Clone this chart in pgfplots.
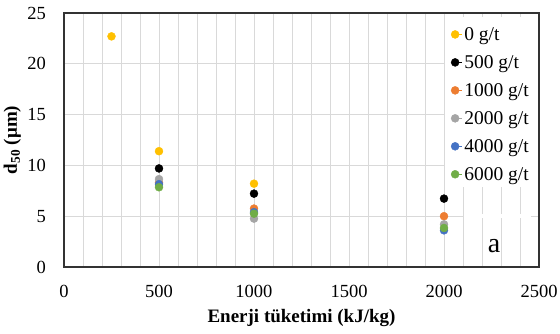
\documentclass[border=0pt]{standalone}
\usepackage{pgfplots}
\pgfplotsset{compat=1.18}
\usepackage{fontspec}
\setmainfont{Liberation Serif}
\definecolor{cy}{HTML}{FFC000}
\definecolor{co}{HTML}{ED7D31}
\definecolor{cg}{HTML}{A5A5A5}
\definecolor{cb}{HTML}{4472C4}
\definecolor{cgr}{HTML}{70AD47}
\definecolor{gridc}{HTML}{D9D9D9}
\begin{document}
\begin{tikzpicture}
\begin{axis}[
  scale only axis,
  width=475pt, height=254pt,
  xmin=0, xmax=2500, ymin=0, ymax=25,
  xtick={0,500,...,2500}, ytick={0,5,...,25},
  minor x tick num=4,
  grid=both,
  major grid style={gridc, line width=0.8pt},
  minor grid style={gridc, line width=0.8pt},
  major tick length=0pt, minor tick length=0pt,
  axis line style={black!80, line width=1.1pt},
  /pgf/number format/assume math mode=true,
  /pgf/number format/1000 sep={},
  tick label style={font=\fontsize{18.5}{21}\selectfont},
  yticklabel style={inner sep=0pt, xshift=-18pt},
  xticklabel style={inner sep=0pt, yshift=-18pt},
  xlabel={\textbf{Enerji tüketimi (kJ/kg)}},
  xlabel style={font=\fontsize{19}{21}\selectfont, at={(axis description cs:0.5,0)}, anchor=base, yshift=-56pt},
  ylabel={\textbf{d\textsubscript{50} (μm)}},
  ylabel style={font=\fontsize{19}{21}\selectfont, at={(axis description cs:0,0.5)}, anchor=base, yshift=47pt},
  legend style={draw=none, fill=none, at={(rel axis cs:1,1)}, anchor=north east, xshift=-6pt, yshift=-10pt,
    font=\fontsize{19.5}{21}\selectfont, row sep=9.5pt, inner sep=2pt},
  legend cell align=left,
  legend image code/.code={\draw[#1] plot coordinates {(0pt,0pt)}; \path (0pt,0pt) -- (7pt,0pt);},
  every axis plot/.append style={only marks, mark=*, mark size=4pt},
]
\coordinate (bl) at (rel axis cs:0,0);
\coordinate (tr) at (rel axis cs:1,1);
\fill[white] (axis cs:2005,7.85) rectangle (axis cs:2495,24.6);
\fill[white] (axis cs:2105,4.8) rectangle (axis cs:2460,5.2);
\addplot[cy, mark options={fill=cy, draw=cy}] coordinates {(250,22.7) (500,11.4) (1000,8.2)};
\addlegendentry{0 g/t}
\addplot[black, mark options={fill=black, draw=black}] coordinates {(500,9.7) (1000,7.22) (2000,6.73)};
\addlegendentry{500 g/t}
\addplot[co, mark options={fill=co, draw=co}] coordinates {(500,8.3) (1000,5.75) (2000,5.0)};
\addlegendentry{1000 g/t}
\addplot[cg, mark options={fill=cg, draw=cg}] coordinates {(500,8.65) (1000,4.76) (2000,4.2)};
\addlegendentry{2000 g/t}
\addplot[cb, mark options={fill=cb, draw=cb}] coordinates {(500,8.15) (1000,5.4) (2000,3.61)};
\addlegendentry{4000 g/t}
\addplot[cgr, mark options={fill=cgr, draw=cgr}] coordinates {(500,7.85) (1000,5.25) (2000,3.84)};
\addlegendentry{6000 g/t}
\node[font=\fontsize{28}{32}\selectfont, anchor=base] at (axis cs:2263,1.45) {a};
\end{axis}
\pgfresetboundingbox
\path ([shift={(-64pt,-67pt)}]bl) rectangle ([shift={(21pt,13pt)}]tr);
\end{tikzpicture}
\end{document}
